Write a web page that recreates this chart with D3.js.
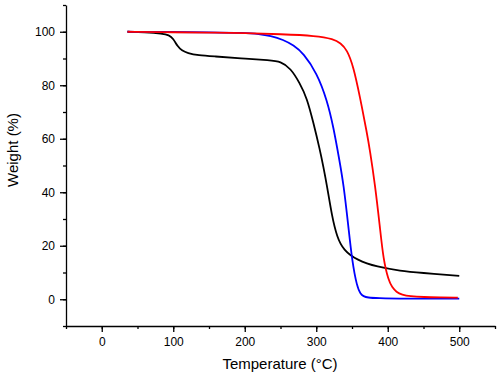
<!DOCTYPE html>
<html lang="en">
<head>
<meta charset="UTF-8">
<title>TGA curves</title>
<style>
	body { margin: 0; background: #fff; }
	text { font-family: "Liberation Sans", Arial, sans-serif; fill: #000; }
	.line { fill: none; stroke-width: 1.8; }
</style>
</head>
<body>
<svg id="container" width="498" height="377"></svg>
<script src="https://cdn.jsdelivr.net/npm/d3@7"></script>
<script>
	// temperature (°C) and weight (%)
	let blackT = [36, 60, 85, 94, 100, 106, 112, 120, 135, 157, 194, 236, 250, 264, 277, 287, 296, 305, 310, 315, 322, 329, 338, 357, 385, 418, 446, 500];
	let blackW = [100, 99.8, 99.3, 98.8, 97.5, 94.5, 93, 92, 91.2, 90.8, 90.1, 89.3, 88.9, 86.4, 80.8, 75.2, 66, 56, 49.5, 42.5, 31, 23.3, 18.4, 14.6, 12.1, 10.6, 9.9, 8.7];
	let blueT = [36, 100, 150, 200, 220, 236, 254, 268, 282, 301, 315, 324, 333, 338, 345, 350, 357, 362, 366, 372, 385, 420, 500];
	let blueW = [100, 99.9, 99.8, 99.6, 99.2, 98.5, 97, 95, 92, 84.5, 74.5, 64.5, 51, 43.3, 27.1, 14.6, 4.6, 2, 1.1, 0.6, 0.4, 0.2, 0.2];
	let redT = [36, 100, 150, 200, 250, 300, 324, 334, 343, 352, 361, 371, 375, 382, 389, 394, 401, 406, 412, 420, 431, 450, 475, 498];
	let redW = [100, 99.8, 99.7, 99.5, 99.1, 98.5, 97.3, 95.8, 93.3, 87, 75.8, 62, 55.8, 43.3, 27.1, 14.6, 7.1, 4.5, 2.7, 1.7, 1.1, 0.8, 0.7, 0.6];

	let xTicks = [0, 100, 200, 300, 400, 500];
	let yTicks = [0, 20, 40, 60, 80, 100];

	let series = [
		{ color: "#000000", t: blackT, w: blackW },
		{ color: "#0000ff", t: blueT, w: blueW },
		{ color: "#ff0000", t: redT, w: redW }
	];

	let svg = d3.select("#container");
	let plotLeft = 66, plotRight = 495, plotTop = 5, plotBottom = 326;

	let xscale = d3.scaleLinear().domain([-50, 550]).range([plotLeft, plotRight]);
	let yscale = d3.scaleLinear().domain([-10, 110]).range([plotBottom, plotTop]);

	// minor ticks first, then the labelled axis on top
	svg.append("g")
		.attr("transform", "translate(0," + plotBottom + ")")
		.call(d3.axisBottom(xscale).tickValues(d3.range(-50, 551, 50)).tickSize(3).tickFormat(""))
		.call(g => g.select(".domain").remove());
	svg.append("g")
		.attr("transform", "translate(" + plotLeft + ",0)")
		.call(d3.axisLeft(yscale).tickValues(d3.range(-10, 111, 10)).tickSize(3).tickFormat(""))
		.call(g => g.select(".domain").remove());

	svg.append("g")
		.attr("transform", "translate(0," + plotBottom + ")")
		.call(d3.axisBottom(xscale).tickValues(xTicks).tickSize(6).tickPadding(5).tickSizeOuter(0));
	svg.append("g")
		.attr("transform", "translate(" + plotLeft + ",0)")
		.call(d3.axisLeft(yscale).tickValues(yTicks).tickSize(6).tickPadding(5).tickSizeOuter(0));

	svg.selectAll(".tick text").style("font-size", "12px").style("font-family", "'Liberation Sans', Arial, sans-serif");
	svg.selectAll(".domain, .tick line").attr("stroke", "#000").attr("stroke-width", 1.3);

	let valueline = d3.line()
		.x(d => xscale(d[0]))
		.y(d => yscale(d[1]))
		.curve(d3.curveBasis);

	series.forEach(s => {
		svg.append("path")
			.datum(s.t.map((t, i) => [t, s.w[i]]))
			.attr("class", "line")
			.attr("stroke", s.color)
			.attr("d", valueline);
	});

	svg.append("text")
		.attr("x", 280)
		.attr("y", 369)
		.attr("text-anchor", "middle")
		.style("font-size", "15px")
		.text("Temperature (°C)");

	svg.append("text")
		.attr("transform", "translate(18,150) rotate(-90)")
		.attr("text-anchor", "middle")
		.style("font-size", "15px")
		.text("Weight (%)");
</script>
</body>
</html>
